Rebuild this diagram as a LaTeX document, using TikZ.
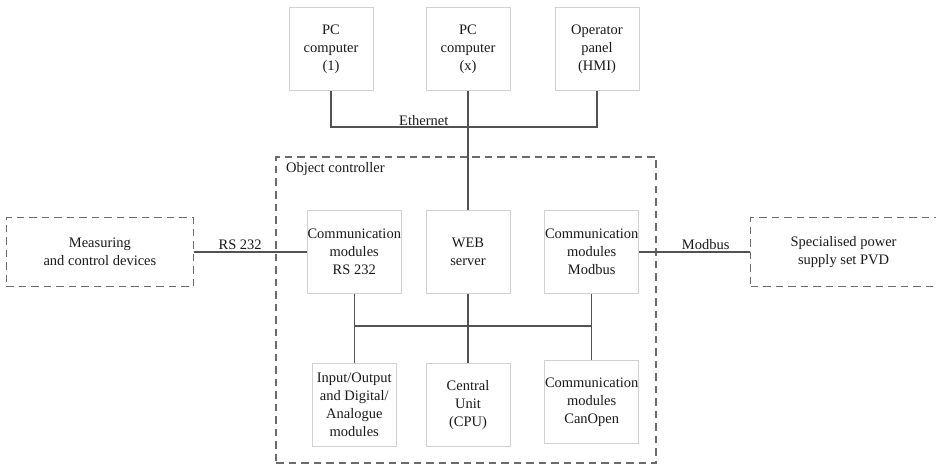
\documentclass[tikz,border=0pt]{standalone}
\usepackage{fontspec}
\setmainfont{Liberation Serif}
\usepackage{xcolor}
\usepackage{tikz}
\usetikzlibrary{positioning}

\begin{document}
\begin{tikzpicture}[x=1pt, y=-1pt, node distance=1cm, auto,
    block/.style={rectangle, draw=black!18, line width=1pt, align=center, minimum width=84pt, minimum height=83pt, inner sep=0.5pt, font=\fontsize{14.5}{18}\selectfont, text=black!90},
    outer/.style={rectangle, draw=black!58, line width=1.3pt, dash pattern=on 7.5pt off 5pt, align=center, font=\fontsize{14.5}{18}\selectfont, text=black!90},
    lbl/.style={inner sep=1.5pt, font=\fontsize{14.5}{18}\selectfont, text=black!90},
    wire/.style={draw=black!68, line width=1.4pt}]

    \useasboundingbox (0,0) rectangle (936,473);

    \node[outer, minimum width=380pt, minimum height=306pt] (ctrl) at (466,310) {};
    \node[lbl, anchor=north west] (ctrllbl) at ([xshift=9pt,yshift=-4pt]ctrl.north west) {Object controller};

    \node[block] (web) at (468,252) {WEB\\server};
    \node[block, above=119pt of web] (pcx) {PC\\computer\\(x)};
    \node[block, left=52pt of pcx] (pc1) {PC\\computer\\(1)};
    \node[block, right=44pt of pcx] (hmi) {Operator\\panel\\(HMI)};

    \node[block, left=23.5pt of web] (rscomm) {Communication\\modules\\RS 232};
    \node[block, right=33.5pt of web] (mbcomm) {Communication\\modules\\Modbus};

    \node[block, below=69pt of rscomm] (io) {Input/Output\\and Digital/\\Analogue\\modules};
    \node[block, below=69pt of web] (cpu) {Central\\Unit\\(CPU)};
    \node[block, below=66pt of mbcomm] (canopen) {Communication\\modules\\CanOpen};

    \node[outer, minimum width=187pt, minimum height=69pt, left=112.5pt of rscomm] (meas) {Measuring\\and control devices};
    \node[outer, minimum width=186pt, minimum height=69pt, right=110.5pt of mbcomm] (spec) {Specialised power\\supply set PVD};

    \coordinate (eth) at (pcx |- 0,127);
    \coordinate (bus) at (web |- 0,326);
    \node[lbl, above left=0pt and 18pt of eth] (ethlbl) {Ethernet};

    \draw[wire] (pc1.south) |- (eth) -| (hmi.south);
    \draw[wire] (pcx.south) -- (web.north);
    \draw[wire] (meas) -- node[lbl, above, pos=0.41] {RS 232} (rscomm);
    \draw[wire] (mbcomm) -- node[lbl, above, pos=0.6] {Modbus} (spec);
    \draw[wire] (rscomm |- bus) -- (mbcomm |- bus);
    \draw[wire] (rscomm.south) -- (io.north);
    \draw[wire] (web.south) -- (cpu.north);
    \draw[wire] (mbcomm.south) -- (canopen.north);

\end{tikzpicture}
\end{document}
